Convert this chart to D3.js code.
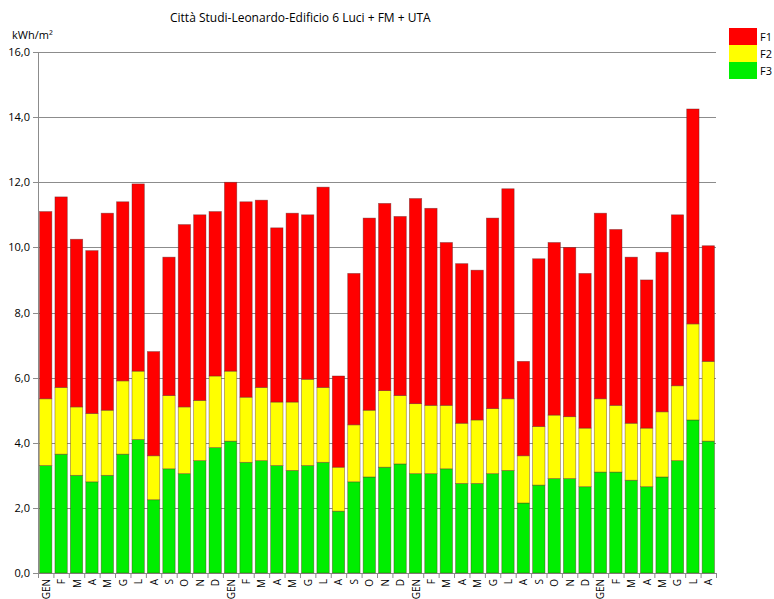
<!DOCTYPE html>
<html>
<head>
<meta charset="utf-8">
<script src="https://cdn.jsdelivr.net/npm/d3@7"></script>
<style>
	body { margin: 0; background: #fff; }
	text { font-family: "Open Sans", "Noto Sans", sans-serif; fill: #000; }
</style>
</head>
<body>
<svg id="chart"></svg>
<script>
// Month labels (four years, last one up to August).
var months = ["GEN","F","M","A","M","G","L","A","S","O","N","D",
	"GEN","F","M","A","M","G","L","A","S","O","N","D",
	"GEN","F","M","A","M","G","L","A","S","O","N","D",
	"GEN","F","M","A","M","G","L","A"];

// F3 band (bottom, green), kWh/m2.
var f3 = [3.3,3.65,3.0,2.8,3.0,3.65,4.1,2.25,3.2,3.05,3.45,3.85,
	4.05,3.4,3.45,3.3,3.15,3.3,3.4,1.9,2.8,2.95,3.25,3.35,
	3.05,3.05,3.2,2.75,2.75,3.05,3.15,2.15,2.7,2.9,2.9,2.65,
	3.1,3.1,2.85,2.65,2.95,3.45,4.7,4.05];

// F2 band (middle, yellow).
var f2 = [2.05,2.05,2.1,2.1,2.0,2.25,2.1,1.35,2.25,2.05,1.85,2.2,
	2.15,2.0,2.25,1.95,2.1,2.65,2.3,1.35,1.75,2.05,2.35,2.1,
	2.15,2.1,1.95,1.85,1.95,2.0,2.2,1.45,1.8,1.95,1.9,1.8,
	2.25,2.05,1.75,1.8,2.0,2.3,2.95,2.45];

// F1 band (top, red).
var f1 = [5.75,5.85,5.15,5.0,6.05,5.5,5.75,3.2,4.25,5.6,5.7,5.05,
	5.8,6.0,5.75,5.35,5.8,5.05,6.15,2.8,4.65,5.9,5.75,5.5,
	6.3,6.05,5.0,4.9,4.6,5.85,6.45,2.9,5.15,5.3,5.2,4.75,
	5.7,5.4,5.1,4.55,4.9,5.25,6.6,3.55];

var yTicks = [0,2,4,6,8,10,12,14,16];
var seriesKeys = ["F3","F2","F1"];
var seriesColors = {"F1": "#ff0000", "F2": "#ffff00", "F3": "#00ee00"};

// Definitions.
var width = 774;
var height = 599;
var plotLeft = 38;
var plotRight = 716;
var plotTop = 52;
var plotBottom = 573;

var svg = d3.select("#chart")
	.attr("width", width)
	.attr("height", height);

// Build the rows for the stack.
var rows = [];
for (var i = 0; i < months.length; i++)
{
	rows.push({"idx" : i, "label" : months[i], "F1" : f1[i], "F2" : f2[i], "F3" : f3[i]});
}
var stacked = d3.stack().keys(seriesKeys)(rows);

var x = d3.scaleBand()
	.domain(d3.range(months.length))
	.range([plotLeft, plotRight])
	.paddingInner(0.2)
	.paddingOuter(0.1);

var y = d3.scaleLinear()
	.domain([0, 16])
	.range([plotBottom, plotTop]);

// Gridlines.
svg.append("g")
	.selectAll("line")
	.data(yTicks)
	.enter()
	.append("line")
	.attr("x1", plotLeft - 5)
	.attr("x2", plotRight)
	.attr("y1", function(d) { return Math.round(y(d)) + 0.5; })
	.attr("y2", function(d) { return Math.round(y(d)) + 0.5; })
	.attr("stroke", "#8c8c8c")
	.attr("stroke-width", 1);

// Y axis labels.
svg.append("g")
	.selectAll("text")
	.data(yTicks)
	.enter()
	.append("text")
	.attr("x", plotLeft - 8)
	.attr("y", function(d) { return y(d) + 4; })
	.attr("text-anchor", "end")
	.style("font-size", "11px")
	.text(function(d) { return d3.format(".1f")(d).replace(".", ","); });

// Bars.
var layers = svg.append("g")
	.selectAll("g")
	.data(stacked)
	.enter()
	.append("g")
	.attr("fill", function(d) { return seriesColors[d.key]; });

layers.selectAll("rect")
	.data(function(d) { return d; })
	.enter()
	.append("rect")
	.attr("x", function(d) { return x(d.data.idx); })
	.attr("width", x.bandwidth())
	.attr("y", function(d) { return y(d[1]); })
	.attr("height", function(d) { return y(d[0]) - y(d[1]); })
	.attr("stroke", "rgba(90,40,40,0.55)")
	.attr("stroke-width", 0.7);

// Y axis line and bottom ticks.
svg.append("line")
	.attr("x1", plotLeft + 0.5)
	.attr("x2", plotLeft + 0.5)
	.attr("y1", plotTop)
	.attr("y2", plotBottom)
	.attr("stroke", "#8c8c8c");

svg.append("g")
	.selectAll("line")
	.data(d3.range(months.length + 1))
	.enter()
	.append("line")
	.attr("x1", function(d) { return plotLeft + d * x.step() + 0.5; })
	.attr("x2", function(d) { return plotLeft + d * x.step() + 0.5; })
	.attr("y1", plotBottom)
	.attr("y2", plotBottom + 5)
	.attr("stroke", "#8c8c8c");

// X labels, rotated.
svg.append("g")
	.selectAll("text")
	.data(rows)
	.enter()
	.append("text")
	.attr("transform", function(d) { return "translate(" + (x(d.idx) + x.bandwidth() / 2 + 4) + "," + (plotBottom + 6) + ") rotate(-90)"; })
	.attr("text-anchor", "end")
	.style("font-size", "10px")
	.text(function(d) { return d.label; });

// Title and unit.
svg.append("text")
	.attr("x", 170)
	.attr("y", 22)
	.style("font-size", "12px")
	.text("Città Studi-Leonardo-Edificio 6  Luci + FM + UTA");

svg.append("text")
	.attr("x", 12)
	.attr("y", 39)
	.style("font-size", "11px")
	.text("kWh/m²");

// Legend.
var legendKeys = ["F1","F2","F3"];
var legend = svg.append("g")
	.selectAll("g")
	.data(legendKeys)
	.enter()
	.append("g")
	.attr("transform", function(d, i) { return "translate(729," + (28 + i * 17) + ")"; });
legend.append("rect")
	.attr("width", 28)
	.attr("height", 17)
	.attr("fill", function(d) { return seriesColors[d]; });
legend.append("text")
	.attr("x", 31)
	.attr("y", 13)
	.style("font-size", "11px")
	.text(function(d) { return d; });
</script>
</body>
</html>
